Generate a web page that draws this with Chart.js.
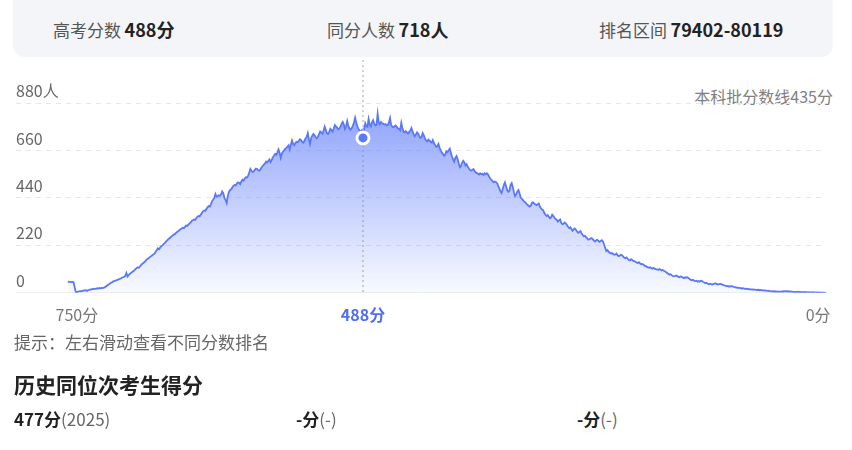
<!DOCTYPE html>
<html>
<head>
<meta charset="utf-8">
<script src="https://cdn.jsdelivr.net/npm/chart.js@4"></script>
<style>
  body { margin: 0; width: 852px; height: 450px; background: #fff; font-family: "Noto Sans CJK SC", "Noto Sans", sans-serif; position: relative; overflow: hidden; }
  .head { position: absolute; left: 13px; top: -12px; width: 820px; height: 69px; background: #f4f5f9; border-radius: 12px; }
  .t { position: absolute; white-space: nowrap; }
  .lab { color: #555; font-size: 17px; }
  .val { color: #222; font-size: 18px; font-weight: bold; }
  #wrap { position: absolute; left: 0; top: 60px; width: 852px; height: 278px; }
  .gray { color: #666; }
</style>
</head>
<body>
<div class="head"></div>
<div class="t" style="left:53px; top:16px;"><span class="lab">高考分数</span> <span class="val">488分</span></div>
<div class="t" style="left:327px; top:16px;"><span class="lab">同分人数</span> <span class="val">718人</span></div>
<div class="t" style="left:599px; top:16px;"><span class="lab">排名区间</span> <span class="val">79402-80119</span></div>
<div class="t gray" style="right:19px; top:84px; font-size:16px; color:#808080;">本科批分数线435分</div>
<div id="wrap"><canvas id="graphCanvas"></canvas></div>
<div class="t gray" style="left:14px; top:329px; font-size:17px;">提示：左右滑动查看不同分数排名</div>
<div class="t" style="left:14px; top:369px; font-size:21px; font-weight:bold; color:#222;">历史同位次考生得分</div>
<div class="t" style="left:14px; top:406px; font-size:17px; color:#222;"><b>477分</b><span class="gray">(2025)</span></div>
<div class="t" style="left:296px; top:406px; font-size:17px; color:#222;"><b>-分</b><span class="gray">(-)</span></div>
<div class="t" style="left:577px; top:406px; font-size:17px; color:#222;"><b>-分</b><span class="gray">(-)</span></div>
<script>
// Score range shown on the chart (highest score first)
const topScore = 750;
const selectedScore = 488;

// Number of students at each score, from 750 down to 77
const counts = [
  52, 51, 51, 50, 51, 50, 28, 4, 2, 5,
  6, 8, 7, 10, 9, 12, 11, 9, 13, 14,
  16, 15, 18, 17, 19, 18, 21, 20, 22, 21,
  23, 22, 24, 26, 30, 34, 38, 41, 45, 48,
  52, 54, 56, 58, 60, 62, 64, 66, 70, 72,
  74, 78, 92, 76, 82, 88, 92, 96, 100, 104,
  110, 114, 118, 116, 122, 128, 134, 138, 142, 148,
  155, 158, 162, 166, 170, 174, 178, 182, 190, 198,
  206, 202, 210, 216, 220, 226, 230, 236, 242, 248,
  252, 256, 262, 266, 270, 272, 278, 282, 286, 290,
  295, 298, 302, 300, 306, 312, 310, 316, 322, 326,
  333, 336, 340, 338, 346, 352, 356, 354, 362, 370,
  378, 382, 380, 388, 396, 402, 400, 410, 424, 432,
  440, 458, 446, 448, 452, 450, 456, 470, 462, 440,
  430, 416, 448, 468, 476, 480, 488, 496, 500, 498,
  506, 512, 510, 504, 516, 524, 520, 530, 536, 534,
  542, 556, 574, 566, 560, 562, 570, 576, 574, 568,
  566, 572, 582, 588, 594, 600, 608, 604, 612, 618,
  606, 616, 628, 636, 644, 640, 650, 664, 648, 626,
  646, 654, 660, 668, 672, 678, 684, 664, 686, 706,
  690, 684, 694, 700, 698, 704, 712, 708, 700, 696,
  704, 716, 722, 740, 712, 690, 718, 728, 736, 730,
  722, 716, 724, 736, 748, 744, 738, 752, 770, 756,
  740, 736, 744, 760, 754, 748, 762, 778, 772, 766,
  758, 760, 770, 784, 792, 780, 760, 772, 796, 774,
  762, 756, 764, 774, 790, 812, 790, 772, 760, 752,
  748, 754, 718, 758, 786, 774, 770, 806, 780, 772,
  790, 800, 784, 776, 778, 830, 790, 782, 792, 786,
  784, 780, 782, 776, 778, 790, 810, 778, 770, 768,
  772, 776, 770, 762, 760, 754, 788, 764, 746, 744,
  750, 744, 738, 746, 752, 764, 748, 736, 726, 734,
  744, 738, 726, 718, 722, 740, 730, 716, 706, 702,
  710, 706, 700, 696, 708, 694, 686, 676, 680, 690,
  672, 660, 650, 644, 636, 640, 656, 652, 660, 668,
  650, 632, 618, 608, 626, 634, 620, 600, 582, 588,
  604, 612, 606, 590, 596, 584, 576, 570, 566, 570,
  574, 566, 558, 556, 552, 548, 554, 550, 552, 546,
  554, 550, 554, 548, 538, 530, 524, 518, 512, 516,
  514, 508, 496, 484, 470, 462, 480, 500, 512, 494,
  476, 468, 474, 500, 508, 490, 466, 448, 456, 470,
  476, 460, 442, 436, 430, 424, 420, 414, 408, 404,
  400, 404, 418, 420, 414, 410, 406, 410, 414, 400,
  392, 386, 382, 370, 362, 356, 360, 352, 346, 350,
  362, 356, 348, 342, 338, 330, 336, 340, 324, 318,
  320, 326, 322, 314, 306, 300, 304, 296, 288, 294,
  298, 292, 284, 278, 282, 286, 276, 268, 262, 264,
  258, 252, 246, 248, 252, 254, 248, 242, 238, 244,
  246, 240, 236, 240, 244, 238, 224, 208, 194, 198,
  190, 186, 182, 184, 180, 176, 178, 182, 174, 170,
  172, 176, 174, 168, 162, 160, 164, 158, 152, 150,
  156, 152, 148, 146, 144, 140, 138, 142, 136, 132,
  134, 130, 126, 124, 120, 118, 116, 118, 114, 112,
  116, 112, 110, 108, 106, 110, 108, 104, 106, 102,
  100, 96, 92, 88, 84, 86, 82, 78, 76, 78,
  80, 78, 74, 72, 76, 74, 70, 68, 72, 70,
  72, 68, 64, 60, 58, 60, 56, 54, 56, 52,
  55, 52, 56, 54, 50, 48, 44, 46, 42, 40,
  42, 40, 38, 40, 42, 44, 40, 38, 40, 41,
  40, 38, 36, 34, 32, 30, 32, 28, 30, 31,
  30, 28, 26, 24, 25, 22, 24, 22, 20, 21,
  20, 18, 19, 17, 18, 16, 17, 15, 16, 15,
  15, 14, 13, 14, 12, 13, 11, 12, 10, 11,
  10, 9, 10, 8, 7, 8, 6, 7, 6, 5,
  6, 5, 4, 6, 5, 7, 6, 8, 6, 7,
  6, 5, 6, 4, 5, 3, 4, 3, 5, 4,
  3, 4, 2, 3, 4, 2, 3, 2, 3, 2,
  2, 3, 2, 1, 2, 2, 1, 2, 1, 1,
  1, 1, 0, 1
];

// Axis labels
const yTicks = [0, 220, 440, 660, 880];
const xTickLabels = ["750分", "488分", "0分"];

const blue = "#5a78f8";
const points = counts.map((c, i) => ({ x: topScore - i, y: c }));

// dotted guide line through the selected score
const guidePlugin = {
  id: "guide",
  beforeDatasetsDraw(chart) {
    const ctx = chart.ctx;
    const x = chart.scales.x.getPixelForValue(selectedScore);
    ctx.save();
    ctx.strokeStyle = "#c4c4c4";
    ctx.lineWidth = 1.5;
    ctx.setLineDash([2, 3]);
    ctx.beginPath();
    ctx.moveTo(x, 0);
    ctx.lineTo(x, chart.chartArea.bottom);
    ctx.stroke();
    ctx.restore();
  }
};

function drawGraph() {
  const ctx = document.getElementById("graphCanvas").getContext("2d");
  new Chart(ctx, {
    type: "line",
    data: {
      datasets: [{
        data: points,
        borderColor: blue,
        borderWidth: 1.8,
        tension: 0,
        fill: "origin",
        backgroundColor: (c) => {
          const area = c.chart.chartArea;
          if (!area) return "rgba(90,120,250,0.3)";
          const g = c.chart.ctx.createLinearGradient(0, area.top, 0, area.bottom);
          g.addColorStop(0, "rgba(90,120,250,0.7)");
          g.addColorStop(1, "rgba(90,120,250,0.04)");
          return g;
        },
        pointRadius: (c) => (c.raw && c.raw.x === selectedScore ? 6 : 0),
        pointHoverRadius: 0,
        pointBackgroundColor: blue,
        pointBorderColor: "#fff",
        pointBorderWidth: 3
      }]
    },
    options: {
      responsive: true,
      maintainAspectRatio: false,
      animation: false,
      layout: { padding: { left: 16, right: 26, top: 43, bottom: 0 } },
      plugins: { legend: { display: false }, tooltip: { enabled: false } },
      scales: {
        x: {
          type: "linear",
          reverse: true,
          min: 77,
          max: 796,
          grid: { display: false, drawTicks: false },
          border: { display: true, color: "#eeeeee" },
          afterBuildTicks: (axis) => {
            axis.ticks = [742, 488, 84].map(v => ({ value: v }));
          },
          ticks: {
            autoSkip: false,
            maxRotation: 0,
            padding: 13,
            font: (c) => ({ family: "Noto Sans CJK SC", size: 16, weight: c.index === 1 ? "bold" : "normal" }),
            color: (c) => (c.index === 1 ? "#4f6ef5" : "#777"),
            callback: (v, i) => xTickLabels[i]
          }
        },
        y: {
          min: 0,
          max: 880,
          afterBuildTicks: (axis) => {
            axis.ticks = yTicks.map(v => ({ value: v }));
          },
          grid: { color: "#e6e6e6", drawTicks: false },
          border: { display: false, dash: [5, 5] },
          ticks: {
            mirror: true,
            padding: 0,
            labelOffset: -12,
            font: { family: "Noto Sans CJK SC", size: 16 },
            color: "#666",
            callback: (v) => (v === 880 ? v + "人" : v)
          }
        }
      }
    },
    plugins: [guidePlugin]
  });
}

window.onload = drawGraph;
</script>
</body>
</html>
